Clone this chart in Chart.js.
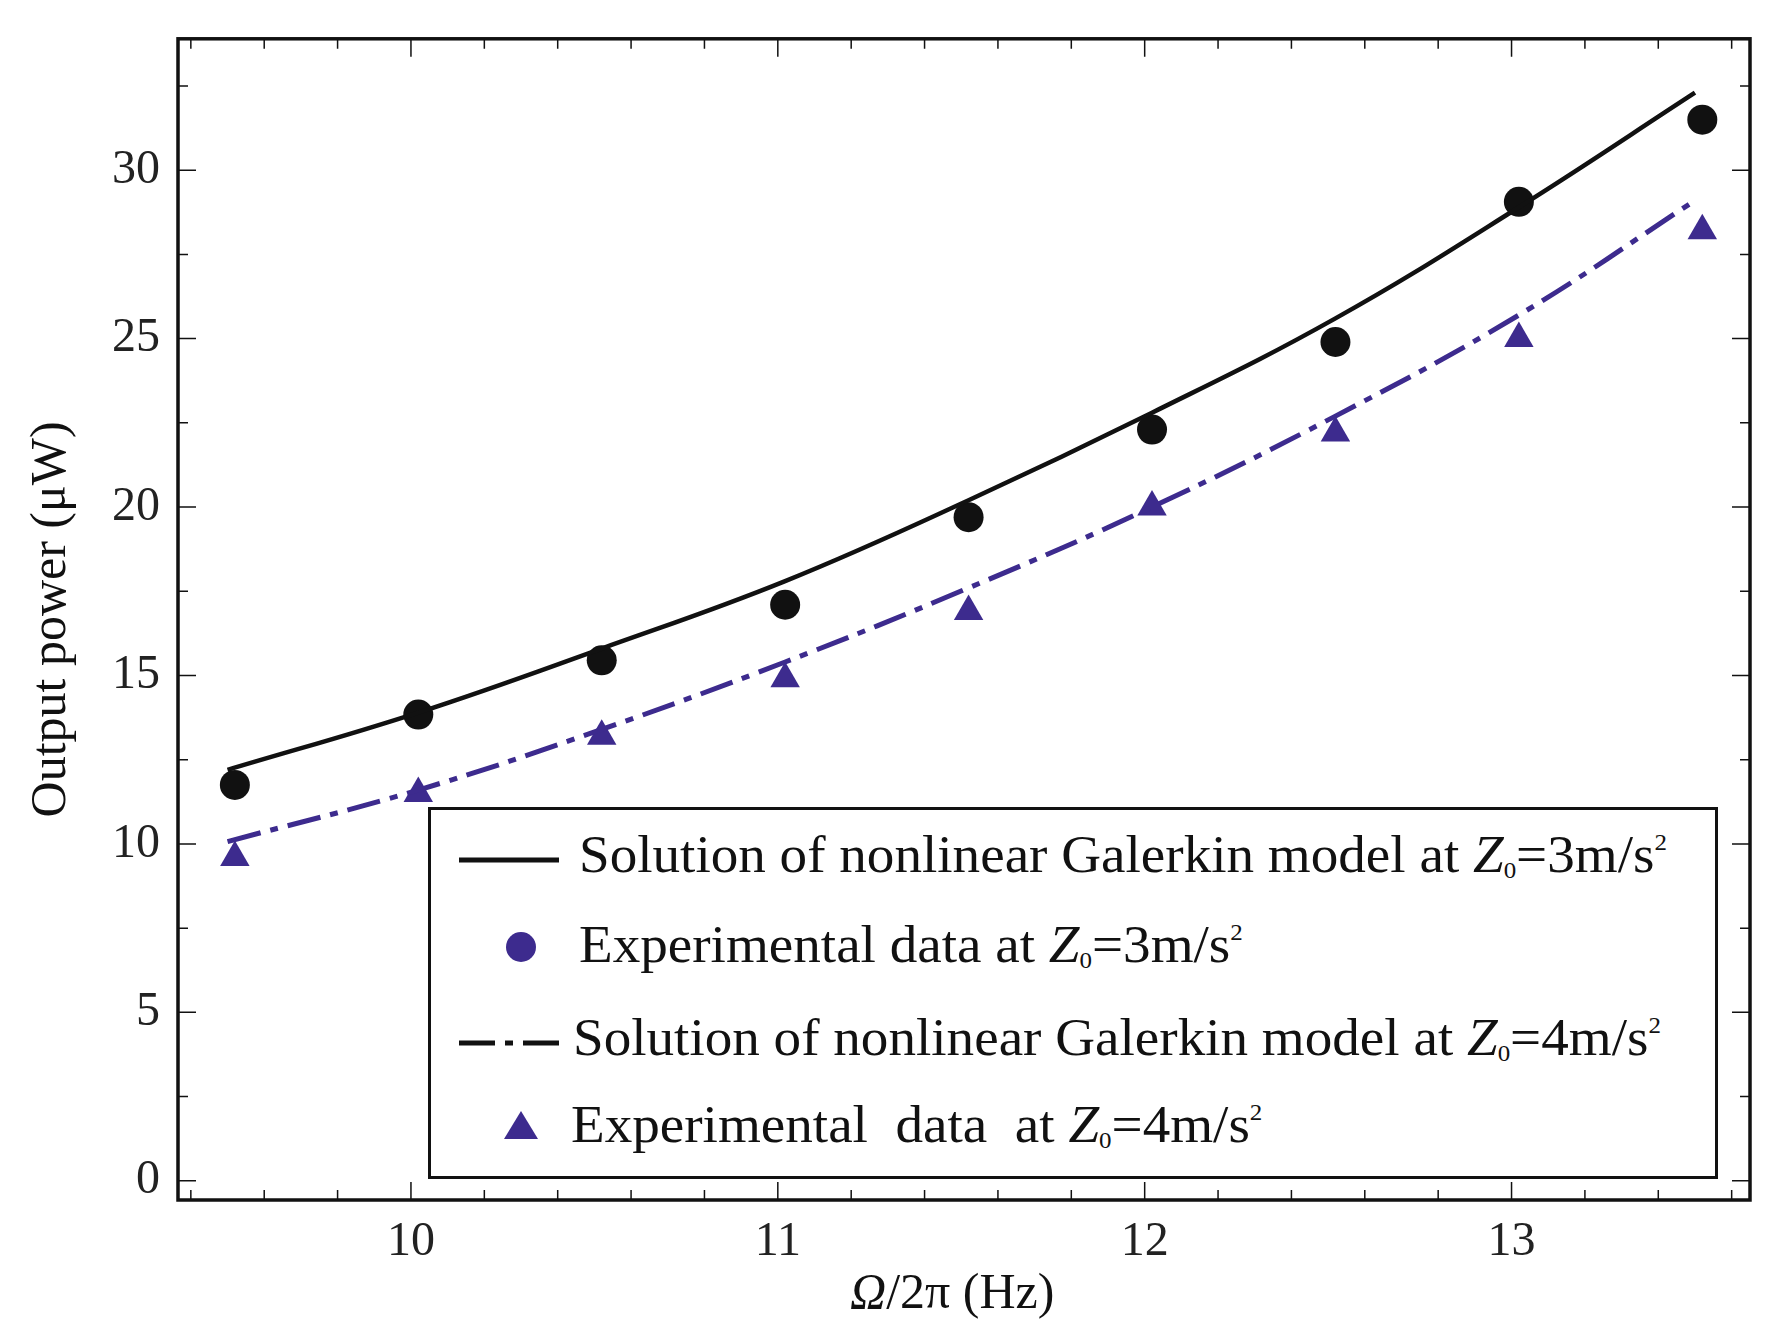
<!DOCTYPE html>
<html><head><meta charset="utf-8">
<script src="https://cdn.jsdelivr.net/npm/chart.js@4"></script>
<style>
body{margin:0;background:#fff;}
#wrap{position:relative;width:1771px;height:1338px;}
.ov{position:absolute;font-family:"Liberation Serif",serif;color:#111;white-space:nowrap;}
#legend{left:428px;top:807px;width:1290px;height:372px;border:3px solid #111;box-sizing:border-box;background:#fff;}
.row{position:absolute;font-size:53px;transform:scaleX(1.04);transform-origin:left center;}
sub{font-size:24px;vertical-align:-6px;} sup{font-size:24px;vertical-align:22px;}
</style></head><body>
<div id="wrap"><canvas id="c" width="1771" height="1338"></canvas>
<div id="legend" class="ov">
 <svg style="position:absolute;left:25px;top:0" width="140" height="370">
  <line x1="3" y1="50" x2="103" y2="50" stroke="#111" stroke-width="5"/>
  <circle cx="65" cy="137" r="15" fill="#3d2b8e"/>
  <line x1="3" y1="233" x2="103" y2="233" stroke="#111" stroke-width="5" stroke-dasharray="36,10,8,10"/>
  <polygon points="65,301 48,329 82,329" fill="#3d2b8e"/>
 </svg>
 <div class="row" style="left:148px;top:14px">Solution of nonlinear Galerkin model at <i>Z</i><sub>0</sub>=3m/s<sup>2</sup></div>
 <div class="row" style="left:148px;top:104px">Experimental data at <i>Z</i><sub>0</sub>=3m/s<sup>2</sup></div>
 <div class="row" style="left:142px;top:197px">Solution of nonlinear Galerkin model at <i>Z</i><sub>0</sub>=4m/s<sup>2</sup></div>
 <div class="row" style="left:140px;top:284px">Experimental&nbsp; data&nbsp; at <i>Z</i><sub>0</sub>=4m/s<sup>2</sup></div>
</div>
<div class="ov" style="left:850px;top:1262px;font-size:50px"><i>Ω</i>/2π (Hz)</div>
</div>
<script>
const expX=[9.52,10.02,10.52,11.02,11.52,12.02,12.52,13.02,13.52];
const exp3=[11.75,13.84,15.45,17.1,19.7,22.3,24.9,29.06,31.5];
const exp4=[9.6,11.5,13.2,14.9,16.9,20.0,22.2,25.0,28.2];
const modX=[9.5,10.02,10.52,11.02,11.52,12.02,12.52,13.02,13.5];
const mod3=[12.2,13.9,15.8,17.8,20.2,22.8,25.6,28.9,32.3];
const mod4=[10.07,11.6,13.4,15.4,17.6,20.0,22.7,25.7,29.1];
const yTicks=[0,5,10,15,20,25,30];
const xTicks=[10,11,12,13];
const pts=(xs,ys)=>xs.map((x,i)=>({x,y:ys[i]}));
const purple='#3d2b8e';
const frame={id:'frame',afterDraw(ch){const {ctx,chartArea:a,scales:{x,y}}=ch;ctx.save();ctx.strokeStyle='#111';
 ctx.lineWidth=1.5;
 for(let v=9.4;v<=13.6;v+=0.2){const p=x.getPixelForValue(v);if(p<a.left||p>a.right)continue;const L=Math.abs(v-Math.round(v))<0.01?18:10;
  ctx.beginPath();ctx.moveTo(p,a.bottom);ctx.lineTo(p,a.bottom-L);ctx.moveTo(p,a.top);ctx.lineTo(p,a.top+L);ctx.stroke();}
 for(let v=0;v<=33.8;v+=2.5){const p=y.getPixelForValue(v);const L=(v%5===0)?18:10;
  ctx.beginPath();ctx.moveTo(a.left,p);ctx.lineTo(a.left+L,p);ctx.moveTo(a.right,p);ctx.lineTo(a.right-L,p);ctx.stroke();}
 ctx.lineWidth=3.5;ctx.strokeRect(a.left,a.top,a.right-a.left,a.bottom-a.top);ctx.restore();}};
new Chart(document.getElementById('c'),{type:'scatter',
 data:{datasets:[
  {data:pts(modX,mod3),showLine:true,borderColor:'#111',borderWidth:4.5,pointRadius:0,tension:0.4},
  {data:pts(expX,exp3),backgroundColor:'#111',pointRadius:15,pointStyle:'circle',borderWidth:0},
  {data:pts(modX,mod4),showLine:true,borderColor:purple,borderWidth:5,pointRadius:0,tension:0.4,borderDash:[34,10,8,10]},
  {data:pts(expX,exp4),backgroundColor:purple,pointRadius:17,pointStyle:'triangle',borderWidth:0}]},
 options:{responsive:false,animation:false,devicePixelRatio:1,
  layout:{padding:{left:22,top:36,right:21,bottom:0}},
  plugins:{legend:{display:false},tooltip:{enabled:false}},
  scales:{
   x:{type:'linear',min:9.365,max:13.65,grid:{display:false},border:{display:false},
    afterBuildTicks:s=>{s.ticks=xTicks.map(v=>({value:v}))},afterFit:s=>{s.height=138},
    ticks:{color:'#222',font:{family:'Liberation Serif',size:48},padding:6}},
   y:{min:-0.57,max:33.9,grid:{display:false},border:{display:false},
    afterBuildTicks:s=>{s.ticks=yTicks.map(v=>({value:v}))},afterFit:s=>{s.width=156},
    title:{display:true,text:'Output power (μW)',color:'#111',font:{family:'Liberation Serif',size:50},padding:0},
    ticks:{color:'#222',font:{family:'Liberation Serif',size:48},padding:10}}}},
 plugins:[frame]});
</script></body></html>
